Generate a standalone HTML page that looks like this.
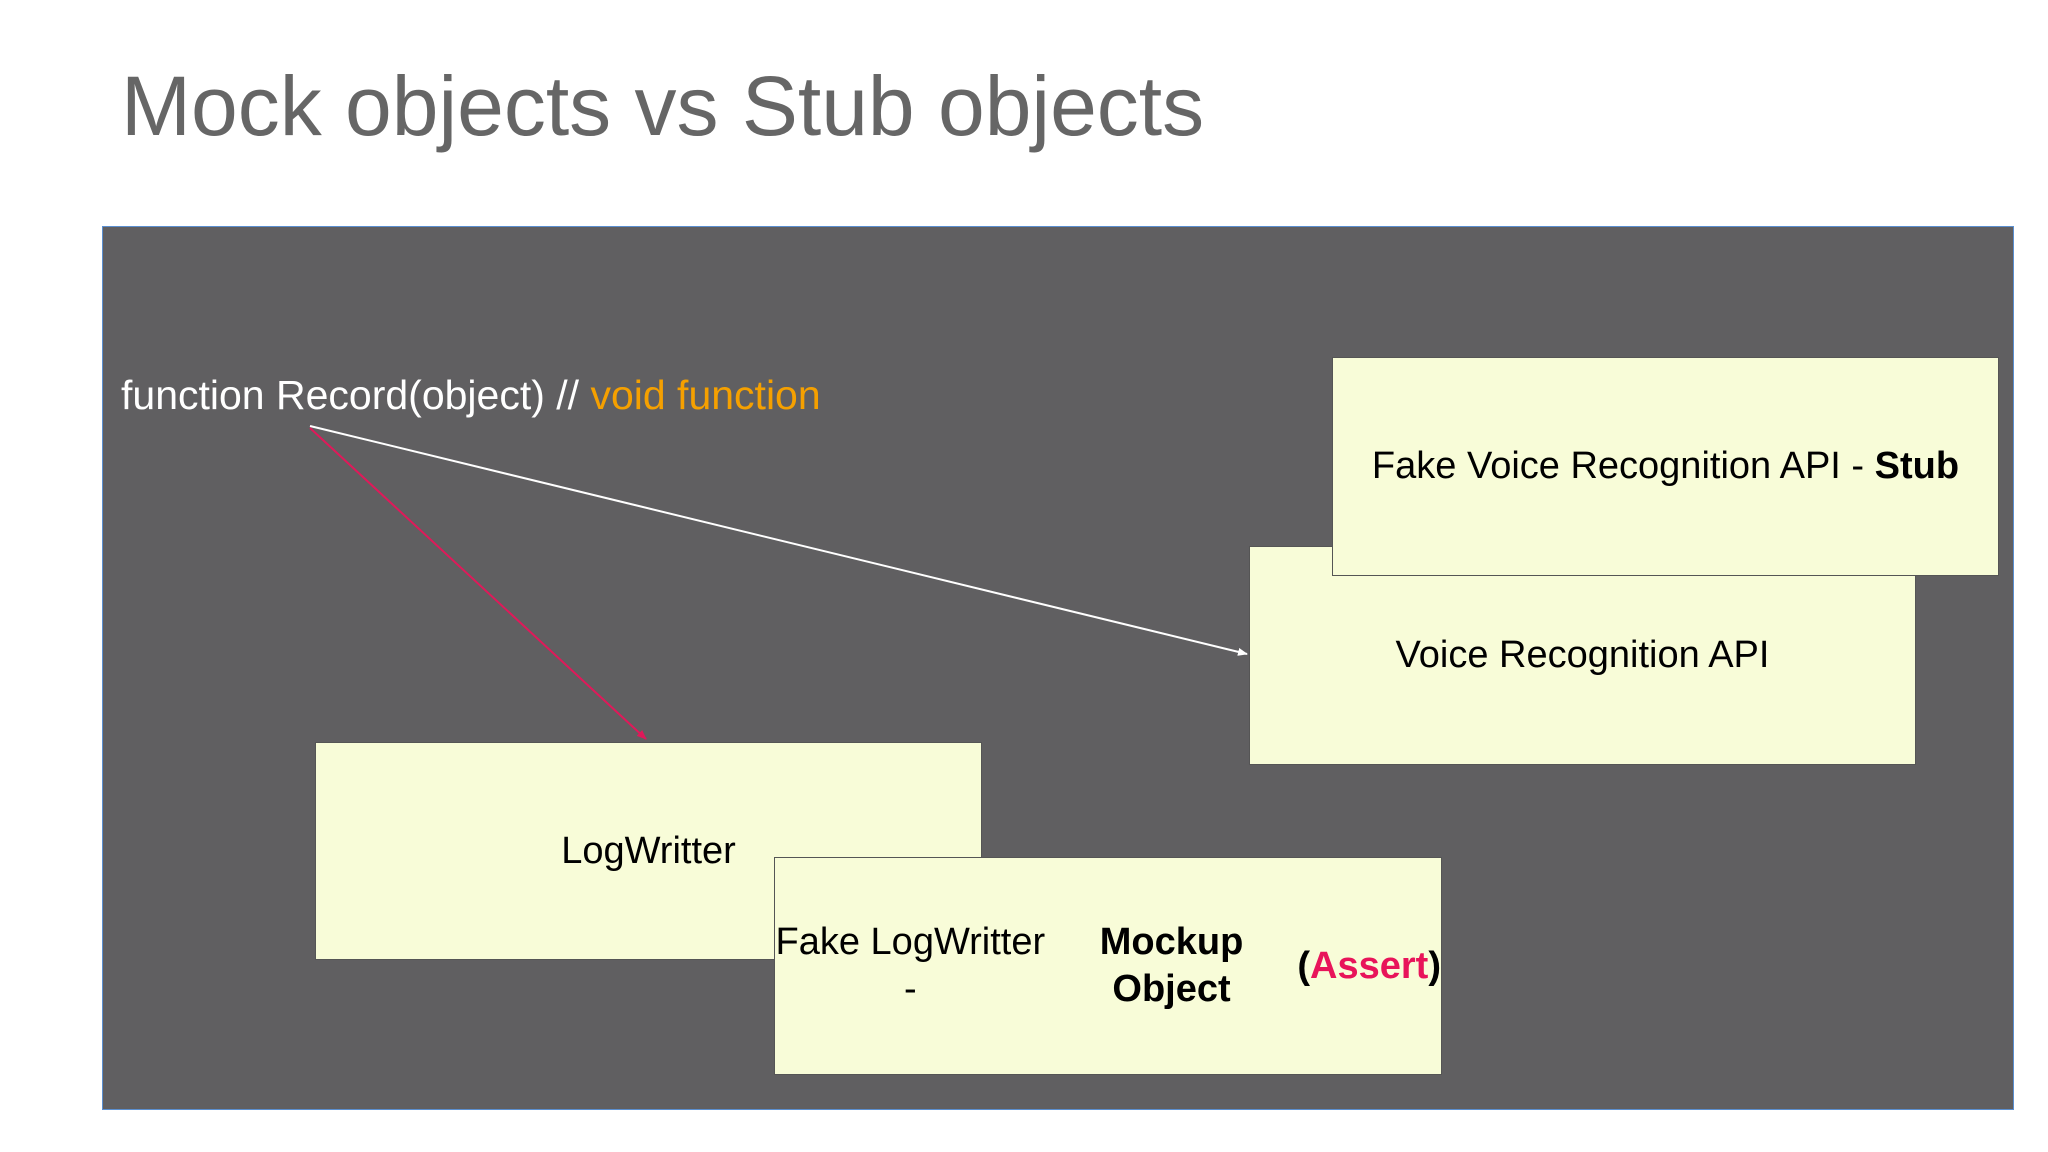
<!DOCTYPE html>
<html><head><meta charset="utf-8"><style>
body{margin:0;width:2048px;height:1152px;background:#fff;position:relative;overflow:hidden;font-family:"Liberation Sans",Arial,sans-serif}
.t{position:absolute;left:121px;top:58px;font-size:84px;color:#666;white-space:nowrap}
.bg{position:absolute;left:102px;top:226px;width:1910px;height:882px;background:#605f61;border:1px solid #5b8fd0}
.b{position:absolute;background:#f8fcd8;border:1px solid #555;box-sizing:border-box;display:flex;align-items:center;justify-content:center;text-align:center;font-size:38px;color:#000;line-height:47px}
.f{position:absolute;left:121px;top:372px;font-size:41px;color:#fff;white-space:nowrap}
</style></head><body>
<div class="t">Mock objects vs Stub objects</div>
<div class="bg"></div>
<div class="f">function Record(object) // <span style="color:#f5a000">void function</span></div>
<div class="b" style="left:1249px;top:546px;width:667px;height:219px">Voice Recognition API</div>
<div class="b" style="left:1332px;top:357px;width:667px;height:219px">Fake Voice Recognition API -&nbsp;<b>Stub</b></div>
<div class="b" style="left:315px;top:742px;width:667px;height:218px">LogWritter</div>
<div class="b" style="left:774px;top:857px;width:668px;height:218px">Fake LogWritter -<br><b>Mockup Object</b><br><b>(<span style="color:#e8145a">Assert</span>)</b></div>
<svg style="position:absolute;left:0;top:0" width="2048" height="1152">
<defs>
<marker id="w" markerWidth="10" markerHeight="8" refX="9" refY="4" orient="auto" markerUnits="userSpaceOnUse"><path d="M0,0L10,4L0,8z" fill="#fff"/></marker>
<marker id="r" markerWidth="10" markerHeight="8" refX="9" refY="4" orient="auto" markerUnits="userSpaceOnUse"><path d="M0,0L10,4L0,8z" fill="#e0195a"/></marker>
</defs>
<line x1="310" y1="426" x2="1247" y2="654" stroke="#fff" stroke-width="2" marker-end="url(#w)"/>
<line x1="310" y1="428" x2="646" y2="739" stroke="#e0195a" stroke-width="2" marker-end="url(#r)"/>
</svg>
</body></html>
